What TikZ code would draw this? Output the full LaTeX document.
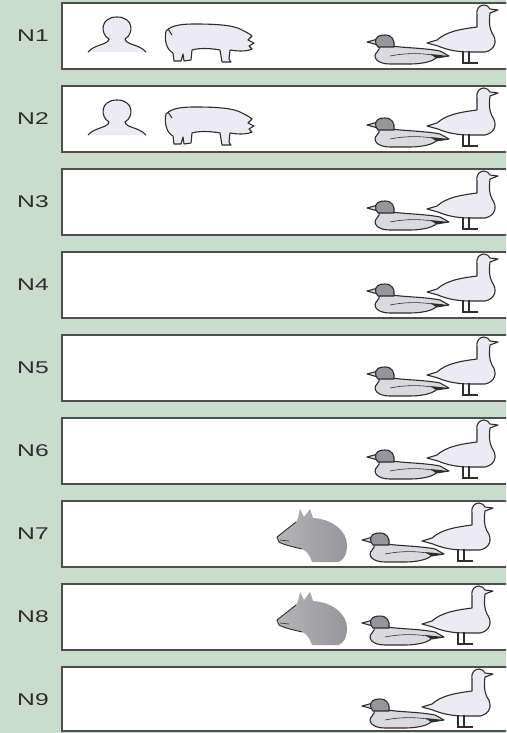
\documentclass[tikz,border=0pt]{standalone}
\usepackage{fontspec}
\setmainfont{Liberation Sans}

\definecolor{backdrop}{RGB}{202,221,204}
\definecolor{rim}{RGB}{78,78,78}
\definecolor{ink}{RGB}{45,45,45}
\definecolor{pale}{RGB}{235,235,241}
\definecolor{feather}{RGB}{218,218,222}
\definecolor{hide}{RGB}{150,150,154}

% Row labels are set wide
\newcommand{\widen}[1]{\scalebox{1.45}[1]{#1}}

\tikzset{
	panel/.style={draw=rim, line width=2pt, fill=white},
	rowname/.style={text=ink, font=\fontsize{17}{17}\selectfont},
	iconline/.style={draw=ink, line width=1.1pt, line join=round},
	% Icons, y measured downwards from the top of a panel:
	pics/human/.style={code={
		\fill[pale] (88,49) .. controls (95,41) and (108,42) .. (109,36) .. controls (100,31) and (100,14) .. (117,14) .. controls (134,14) and (134,31) .. (125,36) .. controls (126,42) and (139,41) .. (146,49) -- cycle;
		\draw[iconline] (88,49) .. controls (95,41) and (108,42) .. (109,36) .. controls (100,31) and (100,14) .. (117,14) .. controls (134,14) and (134,31) .. (125,36) .. controls (126,42) and (139,41) .. (146,49);
	}},
	pics/pig/.style={code={
		\draw[iconline, fill=pale] (166,28) .. controls (172,22) and (182,21) .. (195,21) .. controls (215,21) and (232,22) .. (240,26) .. controls (246,29) and (250,31) .. (252,33) -- (248,37) -- (254,40) -- (249,43) -- (252,46) .. controls (246,49) and (236,48) .. (230,47) -- (229,56) -- (231,59) -- (222,59) -- (220,47) .. controls (210,45) and (198,45) .. (192,47) -- (191,57) -- (184,58) -- (183,51) -- (181,58) -- (174,58) -- (173,50) .. controls (167,47) and (164,38) .. (166,28) -- cycle;
		\draw[iconline] (168,26) -- (172,32);
	}},
	pics/duck/.style={code={
		\draw[iconline, fill=feather] (392,43) .. controls (405,45) and (425,45) .. (440,48) -- (449,53) -- (436,55) .. controls (432,59) and (420,61) .. (410,61) -- (390,61) .. controls (377,61) and (372,54) .. (377,49) .. controls (379,47) and (380,45) .. (379,43) -- cycle;
		\fill[ink] (430,51) -- (449,53) -- (436,55) -- cycle;
		\draw[iconline, line width=0.6pt] (390,53) .. controls (405,50) and (420,50) .. (432,52);
		\draw[iconline, fill=feather] (378,36) -- (367,39) -- (378,42) -- cycle;
		\draw[iconline, fill=hide] (376,41) .. controls (374,33) and (380,32) .. (385,32) .. controls (392,32) and (395,37) .. (394,44) -- (378,44) -- cycle;
	}},
	pics/goose/.style={code={
		\draw[iconline, fill=pale] (477,24) -- (477,12) .. controls (476,5) and (480,2) .. (484,2) .. controls (487,2) and (489,4) .. (490,6) -- (498,7) -- (490,10) .. controls (489,18) and (489,24) .. (492,30) .. controls (498,38) and (495,47) .. (485,49) -- (470,49) .. controls (455,49) and (445,46) .. (438,43) -- (427,40) -- (437,37) .. controls (447,28) and (462,26) .. (477,24) -- cycle;
		\draw[ink, line width=1.8pt] (463,48) -- (463,60) -- (470,60);
		\draw[ink, line width=1.8pt] (469,48) -- (469,60) -- (478,60);
	}},
	pics/horse/.style={code={
		\shade[left color=hide!70!white, right color=hide] (277,36) -- (296,21) -- (298,17) -- (300,8) -- (304,16) -- (310,8) -- (313,17) .. controls (332,18) and (347,30) .. (347,44) .. controls (347,54) and (343,60) .. (338,61) -- (312,61) .. controls (310,55) and (307,50) .. (302,48) .. controls (294,46) and (284,44) .. (279,41) -- cycle;
		\draw[iconline, line width=0.9pt] (296,21) -- (277,36) -- (279,41) .. controls (284,44) and (294,46) .. (302,48);
		\draw[iconline, line width=0.6pt] (280,39) -- (289,40);
	}},
}

\begin{document}
\begin{tikzpicture}[x=1pt, y=-1pt]
	\useasboundingbox (0,0) rectangle (506,733);
	\clip (0,0) rectangle (506,733);
	\fill[backdrop] (0,0) rectangle (506,733);
	% Draw the panels:
	\draw[panel] (62,3) rectangle (520,69);
	\draw[panel] (62,86) rectangle (520,152);
	\draw[panel] (62,169) rectangle (520,235);
	\draw[panel] (62,252) rectangle (520,318);
	\draw[panel] (62,335) rectangle (520,401);
	\draw[panel] (62,418) rectangle (520,484);
	\draw[panel] (62,501) rectangle (520,567);
	\draw[panel] (62,584) rectangle (520,650);
	\draw[panel] (62,667) rectangle (520,731);
	% Row names:
	\node[rowname] (n1) at (33,36) {\widen{N1}};
	\node[rowname] (n2) at (33,119) {\widen{N2}};
	\node[rowname] (n3) at (33,202) {\widen{N3}};
	\node[rowname] (n4) at (33,285) {\widen{N4}};
	\node[rowname] (n5) at (33,368) {\widen{N5}};
	\node[rowname] (n6) at (33,451) {\widen{N6}};
	\node[rowname] (n7) at (33,534) {\widen{N7}};
	\node[rowname] (n8) at (33,617) {\widen{N8}};
	\node[rowname] (n9) at (33,700) {\widen{N9}};
	% Icons in each row:
	\pic at (0,3) {human};
	\pic at (0,3) {pig};
	\pic at (0,3) {duck};
	\pic at (0,3) {goose};
	\pic at (0,86) {human};
	\pic at (0,86) {pig};
	\pic at (0,86) {duck};
	\pic at (0,86) {goose};
	\pic at (0,169) {duck};
	\pic at (0,169) {goose};
	\pic at (0,252) {duck};
	\pic at (0,252) {goose};
	\pic at (0,335) {duck};
	\pic at (0,335) {goose};
	\pic at (0,418) {duck};
	\pic at (0,418) {goose};
	\pic at (0,501) {horse};
	\pic at (-5,501) {duck};
	\pic at (-5,501) {goose};
	\pic at (0,584) {horse};
	\pic at (-5,584) {duck};
	\pic at (-5,584) {goose};
	\pic at (-5,667) {duck};
	\pic at (-5,667) {goose};
\end{tikzpicture}
\end{document}
